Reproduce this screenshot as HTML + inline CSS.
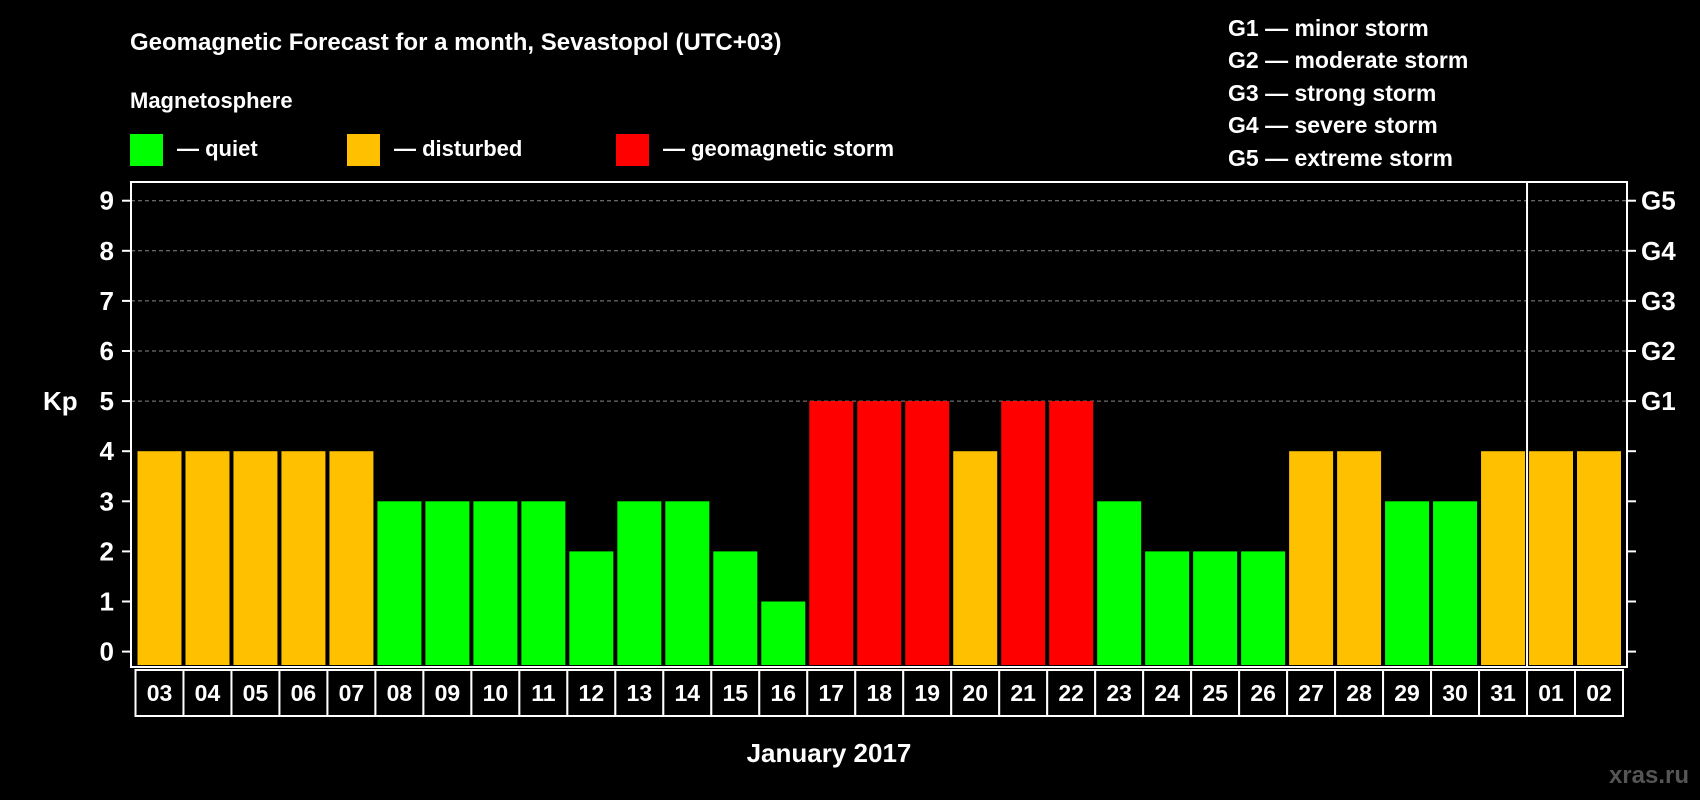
<!DOCTYPE html>
<html><head><meta charset="utf-8"><style>
html,body{margin:0;padding:0;background:#000;}
svg{display:block;font-family:"Liberation Sans",sans-serif;font-weight:bold;}
</style></head><body>
<svg id="chart" width="1700" height="800" viewBox="0 0 1700 800">
<rect x="0" y="0" width="1700" height="800" fill="#000"/>
<text x="130" y="50" fill="#fff" font-size="24">Geomagnetic Forecast for a month, Sevastopol (UTC+03)</text>
<text x="130" y="108" fill="#fff" font-size="22">Magnetosphere</text>
<g><rect x="130" y="134" width="33" height="32" fill="#00ff00"/><text x="177" y="156" fill="#fff" font-size="22">— quiet</text></g>
<g><rect x="347" y="134" width="33" height="32" fill="#ffc000"/><text x="394" y="156" fill="#fff" font-size="22">— disturbed</text></g>
<g><rect x="616" y="134" width="33" height="32" fill="#ff0000"/><text x="663" y="156" fill="#fff" font-size="22">— geomagnetic storm</text></g>
<g fill="#fff" font-size="23">
<text x="1228" y="36">G1 — minor storm</text>
<text x="1228" y="68">G2 — moderate storm</text>
<text x="1228" y="101">G3 — strong storm</text>
<text x="1228" y="133">G4 — severe storm</text>
<text x="1228" y="166">G5 — extreme storm</text>
</g>
<text x="43" y="410" fill="#fff" font-size="26">Kp</text>
<text x="829" y="762" fill="#fff" font-size="26" text-anchor="middle">January 2017</text>
<text x="1689" y="783" fill="#555" font-size="24" text-anchor="end">xras.ru</text>
<g id="grid"></g><g id="bars"></g><g id="axes"></g><g id="xlabels"></g>
</svg>
<script>
const days = ["03","04","05","06","07","08","09","10","11","12","13","14","15","16","17","18","19","20","21","22","23","24","25","26","27","28","29","30","31","01","02"];
const kpValues = [4,4,4,4,4,3,3,3,3,2,3,3,2,1,5,5,5,4,5,5,3,2,2,2,4,4,3,3,4,4,4];
const yTicks = [0,1,2,3,4,5,6,7,8,9];
const gLabels = ["G1","G2","G3","G4","G5"];
const gLevels = [5,6,7,8,9];
const monthBreakIndex = 29;

const NS = "http://www.w3.org/2000/svg";
const boxL = 131, boxR = 1627, boxT = 182, boxB = 667;
const y0 = 651.6, unit = 50.1;
const x0 = 135.5, pitch = (1623 - 135.5) / days.length;
function y(v){ return y0 - v * unit; }
function x(i){ return x0 + i * pitch; }
function colorFor(v){ return v >= 5 ? "#ff0000" : (v >= 4 ? "#ffc000" : "#00ff00"); }
function mk(tag, attrs, parent){ const e = document.createElementNS(NS, tag); for (const k in attrs) e.setAttribute(k, attrs[k]); parent.appendChild(e); return e; }

const grid = document.getElementById("grid");
gLevels.forEach(v => {
  const l = mk("line", {x1: boxL, x2: boxR, y1: y(v), y2: y(v), stroke: "#888", "stroke-width": 1, "stroke-dasharray": "4,3"}, grid);
  
  
});

const bars = document.getElementById("bars");
kpValues.forEach((v, i) => {
  const r = mk("rect", {x: x(i) + 2, y: y(v), width: pitch - 4, height: y(0) - y(v) + (boxB - y0) - 2, fill: colorFor(v)}, bars);
  
  
});

const axes = document.getElementById("axes");
const frame = mk("rect", {x: boxL, y: boxT, width: boxR - boxL, height: boxB - boxT, fill: "none", stroke: "#fff", "stroke-width": 2}, axes);


const sep = mk("line", {x1: x(monthBreakIndex), x2: x(monthBreakIndex), y1: boxT, y2: boxB, stroke: "#fff", "stroke-width": 2}, axes);


yTicks.forEach(v => {
  mk("line", {x1: boxL - 9, x2: boxL, y1: y(v), y2: y(v), stroke: "#fff", "stroke-width": 2}, axes);
  mk("line", {x1: boxR, x2: boxR + 9, y1: y(v), y2: y(v), stroke: "#fff", "stroke-width": 2}, axes);
  const t = mk("text", {x: 114, y: y(v) + 9, fill: "#fff", "font-size": 26, "text-anchor": "end"}, axes);
  t.textContent = v;
  
  
});
gLabels.forEach((g, i) => {
  const t = mk("text", {x: 1641, y: y(gLevels[i]) + 9, fill: "#fff", "font-size": 26}, axes);
  t.textContent = g;
  
  
});

const xl = document.getElementById("xlabels");
days.forEach((d, i) => {
  const c = mk("rect", {x: x(i), y: 670, width: pitch, height: 46, fill: "#000", stroke: "#fff", "stroke-width": 2}, xl);
  
  
  const t = mk("text", {x: x(i) + pitch / 2, y: 701, fill: "#fff", "font-size": 23, "text-anchor": "middle"}, xl);
  t.textContent = d;
  
  
});
</script>
</body></html>
